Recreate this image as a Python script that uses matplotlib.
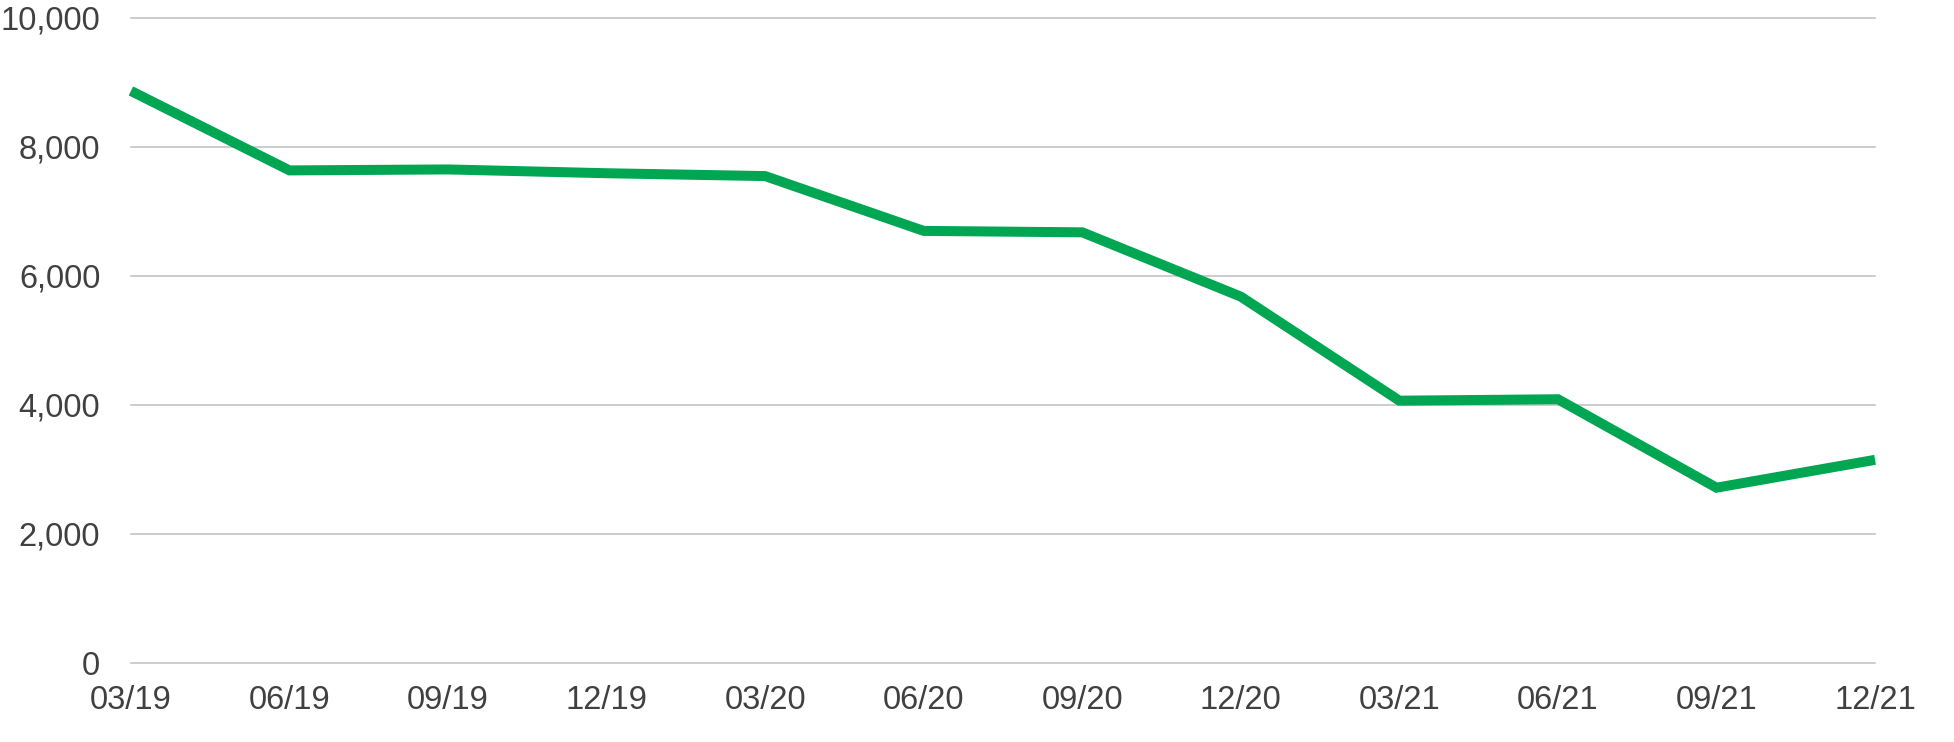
import matplotlib
matplotlib.use("Agg")
import matplotlib.pyplot as plt
from matplotlib.ticker import FuncFormatter

categories = ["03/19", "06/19", "09/19", "12/19", "03/20", "06/20",
              "09/20", "12/20", "03/21", "06/21", "09/21", "12/21"]
values = [8864, 7632, 7647, 7588, 7544, 6694, 6672, 5675, 4062, 4084, 2713, 3145]
yticks = [0, 2000, 4000, 6000, 8000, 10000]

plt.rcParams['font.family'] = ['Liberation Sans', 'DejaVu Sans']

fig = plt.figure(figsize=(19.54, 7.42), dpi=100)
ax = fig.add_axes([0.067, 0.1069, 0.8926, 0.8693])

x = list(range(len(categories)))
ax.plot(x, values, color='#00A651', linewidth=7.2, solid_joinstyle='miter',
        solid_capstyle='butt', zorder=3, clip_on=False)

ax.set_xlim(0, len(categories) - 1)
ax.set_ylim(0, 10000)
ax.set_yticks(yticks)
ax.yaxis.set_major_formatter(FuncFormatter(lambda v, p: f"{int(v):,}"))
ax.set_xticks(x)
ax.set_xticklabels(categories)

ax.grid(axis='y', color='#BFBFBF', linewidth=1.1, zorder=1)
ax.set_axisbelow(True)
for gl in ax.get_ygridlines():
    gl.set_clip_on(False)
for s in ax.spines.values():
    s.set_visible(False)
ax.tick_params(axis='both', length=0, labelsize=23.5, colors='#404040')
ax.tick_params(axis='y', pad=22)
ax.tick_params(axis='x', pad=16)

fig.savefig("out.png", dpi=100, facecolor='white')
